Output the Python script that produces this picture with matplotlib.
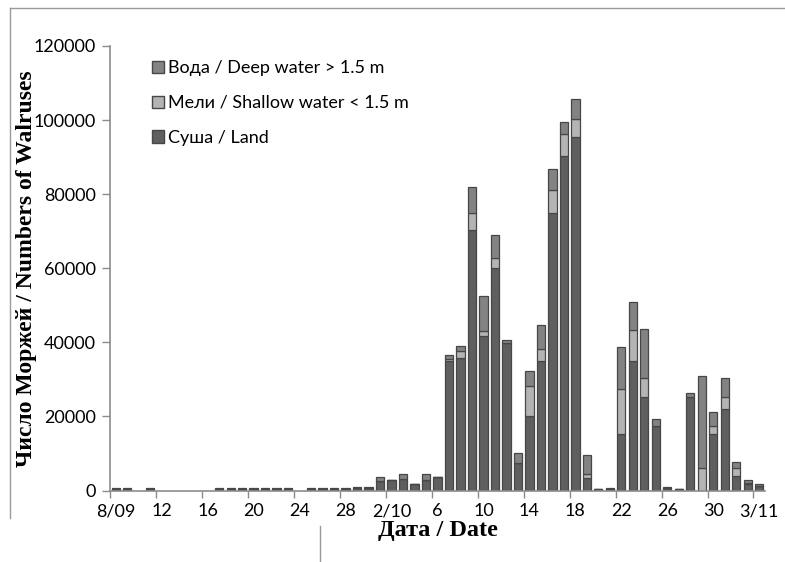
import matplotlib
matplotlib.use('Agg')
import matplotlib.pyplot as plt
from matplotlib.patches import Patch
from matplotlib.lines import Line2D
import numpy as np

# one entry per day, 8 Sep .. 3 Nov (57 days), 0 = no survey
land = [300, 300, 0, 300, 0, 0, 0, 0, 0, 300,
        300, 300, 300, 300, 300, 300, 0, 300, 300, 300,
        300, 600, 600, 2500, 2800, 3200, 1700, 2800, 3600, 35000,
        35700, 70300, 41800, 60000, 39800, 7400, 20000, 34900, 75000, 90200,
        95500, 3400, 300, 400, 15300, 34900, 25200, 17500, 600, 300,
        25200, 0, 15300, 22100, 4000, 1800, 1100]
shallow = [0, 0, 0, 0, 0, 0, 0, 0, 0, 0,
           0, 0, 0, 0, 0, 0, 0, 0, 0, 0,
           0, 0, 0, 0, 0, 0, 0, 0, 0, 600,
           2000, 4700, 1200, 2800, 0, 0, 8300, 3300, 6000, 6100,
           4900, 1100, 0, 0, 12100, 8400, 5200, 0, 0, 0,
           0, 6000, 2000, 3100, 2000, 300, 0]
deep = [300, 300, 0, 300, 0, 0, 0, 0, 0, 300,
        300, 300, 300, 300, 300, 300, 0, 300, 300, 300,
        300, 300, 300, 1200, 0, 1300, 0, 1700, 0, 1000,
        1200, 6900, 9600, 6100, 900, 2700, 4000, 6400, 5700, 3200,
        5400, 5200, 200, 200, 11300, 7700, 13300, 1700, 300, 200,
        1000, 24900, 4000, 5300, 1600, 800, 600]
tick_labels = ['8/09', '12', '16', '20', '24', '28', '2/10', '6', '10', '14',
               '18', '22', '26', '30', '3/11']
legend_labels = ['Вода / Deep water > 1.5 m', 'Мели / Shallow water < 1.5 m', 'Суша / Land']

c_land = '#5f5f5f'
c_shallow = '#b4b4b4'
c_deep = '#838383'
c_edge = '#474747'

land = np.array(land)
shallow = np.array(shallow)
deep = np.array(deep)
x = np.arange(len(land))

fig = plt.figure(figsize=(7.85, 5.62), dpi=100)
ax = fig.add_axes([0.1401, 0.1272, 0.8344, 0.7910])

kw = dict(width=0.72, edgecolor=c_edge, linewidth=0.9)
m = (land + shallow + deep) > 0
ax.bar(x[m], land[m], color=c_land, **kw)
ax.bar(x[m], shallow[m], bottom=land[m], color=c_shallow, **kw)
ax.bar(x[m], deep[m], bottom=(land + shallow)[m], color=c_deep, **kw)

ax.set_xlim(-0.5, len(land) - 0.5)
ax.set_ylim(0, 120000)

tick_font = 'Lato'
ax.set_xticks(np.arange(0, len(land), 4))
ax.set_xticklabels(tick_labels, fontsize=13, fontfamily=tick_font)
ax.set_xticks(np.arange(-0.5, len(land), 4), minor=True)
ax.tick_params(axis='x', which='major', length=0, pad=9)
ax.tick_params(axis='x', which='minor', length=5, color='#8c8c8c', width=1)
ax.set_yticks(np.arange(0, 120001, 20000))
ax.set_yticklabels([str(v) for v in range(0, 120001, 20000)], fontsize=13, fontfamily=tick_font)
ax.tick_params(axis='y', length=6, color='#8c8c8c', width=1, pad=4)

for s in ['top', 'right']:
    ax.spines[s].set_visible(False)
for s in ['left', 'bottom']:
    ax.spines[s].set_color('#8c8c8c')
    ax.spines[s].set_linewidth(1.2)

ax.set_xlabel('Дата / Date', fontsize=17.5, fontweight='bold', fontfamily='Liberation Serif', labelpad=1)
ax.set_ylabel('Число Моржей / Numbers of Walruses', fontsize=17, fontweight='bold',
              fontfamily='Liberation Serif', labelpad=-2)

handles = [Patch(facecolor=c_deep, edgecolor=c_edge),
           Patch(facecolor=c_shallow, edgecolor=c_edge),
           Patch(facecolor=c_land, edgecolor=c_edge)]
ax.legend(handles, legend_labels, loc='upper left', bbox_to_anchor=(0.04, 1.005), frameon=False,
          prop={'family': tick_font, 'size': 13}, handlelength=0.66, handleheight=0.66,
          handletextpad=0.22, labelspacing=1.05)

# chart area border pieces visible in the crop
fig.add_artist(Line2D([10 / 785, 10 / 785], [1 - 518 / 562, 1 - 8 / 562], transform=fig.transFigure,
                      color='#9a9a9a', linewidth=1))
fig.add_artist(Line2D([10 / 785, 1], [1 - 8 / 562, 1 - 8 / 562], transform=fig.transFigure,
                      color='#9a9a9a', linewidth=1))
fig.add_artist(Line2D([320 / 785, 320 / 785], [0, 1 - 526 / 562], transform=fig.transFigure,
                      color='#9a9a9a', linewidth=1))

fig.savefig('out.png', dpi=100)
